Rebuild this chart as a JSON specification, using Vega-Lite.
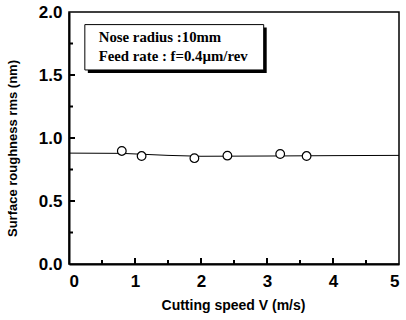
{
  "$schema": "https://vega.github.io/schema/vega-lite/v6.json",
  "width": 330,
  "height": 252,
  "autosize": {"type": "none"},
  "padding": {"left": 69, "top": 12, "right": 7, "bottom": 56},
  "config": {
    "view": {"stroke": "black", "strokeWidth": 1.5},
    "font": "Liberation Sans"
  },
  "datasets": {
    "fit": [
      {"V": 0, "rms": 0.88},
      {"V": 0.8, "rms": 0.878},
      {"V": 1.5, "rms": 0.862},
      {"V": 2.0, "rms": 0.855},
      {"V": 3.0, "rms": 0.857},
      {"V": 4.0, "rms": 0.86},
      {"V": 5.0, "rms": 0.862}
    ],
    "pts": [
      {"V": 0.8, "rms": 0.897},
      {"V": 1.1, "rms": 0.857},
      {"V": 1.9, "rms": 0.84},
      {"V": 2.4, "rms": 0.86},
      {"V": 3.2, "rms": 0.873},
      {"V": 3.6, "rms": 0.857}
    ],
    "xmajor": [{"V": 1}, {"V": 2}, {"V": 3}, {"V": 4}],
    "xminor": [{"V": 0.5}, {"V": 1.5}, {"V": 2.5}, {"V": 3.5}, {"V": 4.5}],
    "ymajor": [{"rms": 0.5}, {"rms": 1.0}, {"rms": 1.5}],
    "yminor": [{"rms": 0.25}, {"rms": 0.75}, {"rms": 1.25}, {"rms": 1.75}],
    "box": [{"x1": 0.24, "x2": 2.95, "y1": 1.9, "y2": 1.54}],
    "notes": [
      {"x": 0.45, "y": 1.79, "label": "Nose radius :10mm"},
      {"x": 0.45, "y": 1.645, "label": "Feed rate : f=0.4µm/rev"}
    ]
  },
  "layer": [
    {
      "data": {"name": "fit"},
      "mark": {"type": "line", "color": "black", "strokeWidth": 1},
      "encoding": {
        "x": {
          "field": "V", "type": "quantitative",
          "scale": {"domain": [0, 5], "nice": false},
          "axis": {
            "zindex": 1,
            "title": "Cutting speed V (m/s)",
            "titleFontSize": 14, "titleFontWeight": "bold", "titleColor": "black",
            "titleX": 164, "titleY": 41, "titleAlign": "center", "titleBaseline": "middle",
            "values": [0, 1, 2, 3, 4, 5],
            "format": "d",
            "labelFontSize": 17, "labelFontWeight": "bold", "labelColor": "black",
            "labelPadding": 9,
            "ticks": false,
            "domainColor": "black", "domainWidth": 2,
            "grid": false
          }
        },
        "y": {
          "field": "rms", "type": "quantitative",
          "scale": {"domain": [0, 2], "nice": false},
          "axis": {
            "zindex": 1,
            "title": "Surface roughness rms (nm)",
            "titleFontSize": 13, "titleFontWeight": "bold", "titleColor": "black",
            "titleX": -57, "titleY": 136, "titleAlign": "center", "titleBaseline": "middle",
            "values": [0, 0.5, 1, 1.5, 2],
            "format": ".1f",
            "labelFontSize": 17, "labelFontWeight": "bold", "labelColor": "black",
            "labelPadding": 7,
            "ticks": false,
            "domainColor": "black", "domainWidth": 2,
            "grid": false
          }
        }
      }
    },
    {
      "data": {"name": "xmajor"},
      "mark": {"type": "rule", "color": "black", "strokeWidth": 2, "y2Offset": -6},
      "encoding": {
        "x": {"field": "V", "type": "quantitative"},
        "y": {"datum": 0},
        "y2": {"datum": 0}
      }
    },
    {
      "data": {"name": "xminor"},
      "mark": {"type": "rule", "color": "black", "strokeWidth": 2, "y2Offset": -4},
      "encoding": {
        "x": {"field": "V", "type": "quantitative"},
        "y": {"datum": 0},
        "y2": {"datum": 0}
      }
    },
    {
      "data": {"name": "ymajor"},
      "mark": {"type": "rule", "color": "black", "strokeWidth": 2, "x2Offset": 6},
      "encoding": {
        "y": {"field": "rms", "type": "quantitative"},
        "x": {"datum": 0},
        "x2": {"datum": 0}
      }
    },
    {
      "data": {"name": "yminor"},
      "mark": {"type": "rule", "color": "black", "strokeWidth": 2, "x2Offset": 4},
      "encoding": {
        "y": {"field": "rms", "type": "quantitative"},
        "x": {"datum": 0},
        "x2": {"datum": 0}
      }
    },
    {
      "data": {"name": "pts"},
      "mark": {"type": "point", "shape": "circle", "filled": false, "fill": "white", "fillOpacity": 1, "stroke": "black", "strokeWidth": 1.2, "size": 75, "opacity": 1},
      "encoding": {
        "x": {"field": "V", "type": "quantitative"},
        "y": {"field": "rms", "type": "quantitative"}
      }
    },
    {
      "data": {"name": "box"},
      "mark": {"type": "rect", "color": "black", "xOffset": 3, "yOffset": 3, "x2Offset": 3, "y2Offset": 3},
      "encoding": {
        "x": {"field": "x1", "type": "quantitative"},
        "x2": {"field": "x2"},
        "y": {"field": "y1", "type": "quantitative"},
        "y2": {"field": "y2"}
      }
    },
    {
      "data": {"name": "box"},
      "mark": {"type": "rect", "fill": "white", "stroke": "black", "strokeWidth": 1},
      "encoding": {
        "x": {"field": "x1", "type": "quantitative"},
        "x2": {"field": "x2"},
        "y": {"field": "y1", "type": "quantitative"},
        "y2": {"field": "y2"}
      }
    },
    {
      "data": {"name": "notes"},
      "mark": {"type": "text", "align": "left", "baseline": "middle", "font": "Liberation Serif", "fontWeight": "bold", "fontSize": 14.8, "color": "black"},
      "encoding": {
        "x": {"field": "x", "type": "quantitative"},
        "y": {"field": "y", "type": "quantitative"},
        "text": {"field": "label"}
      }
    }
  ]
}
